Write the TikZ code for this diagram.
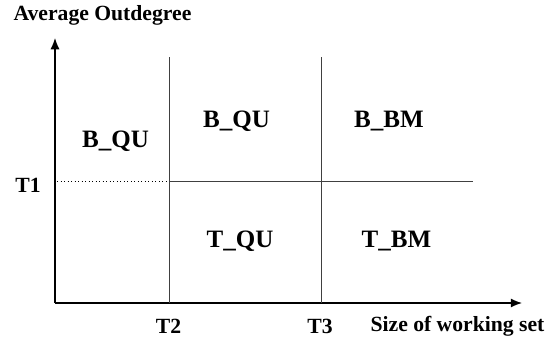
\documentclass[tikz,border=0pt]{standalone}
\usepackage{fontspec}
\setmainfont{Liberation Serif}
\usepackage{tikz}
\usetikzlibrary{arrows.meta,positioning}

\tikzset{
    lbl/.style={font=\fontsize{15.4}{18}\selectfont\bfseries, inner sep=0pt},
    region/.style={font=\fontsize{17.8}{21}\selectfont\bfseries, inner sep=0pt, anchor=base},
    divider/.style={line width=0.6pt, color=black!75},
    axis/.style={line width=0.9pt, -{Latex[length=8pt,width=6.5pt]}}
}

\begin{document}
\begin{tikzpicture}[x=0.025cm, y=0.025cm]
        \useasboundingbox (-55,-42) rectangle (497,303);

        % Axes
        \coordinate (O) at (0,0);
        \coordinate (ytip) at (0,265);
        \coordinate (xtip) at (467,0);
        \draw[axis] (O) -- (ytip);
        \draw[axis] (O) -- (xtip);

        % Axis labels
        \node[lbl] (ylabel) at (47.5,288) {Average Outdegree};
        \node[lbl] (xlabel) at (402.5,-23) {Size of working set};

        % Thresholds
        \coordinate (t2top) at (114,246);
        \coordinate (t2bot) at (114,0);
        \coordinate (t3top) at (266,246);
        \coordinate (t3bot) at (266,0);
        \coordinate (t1left) at (2,122);
        \coordinate (t1mid) at (114,122);
        \coordinate (t1right) at (418,122);
        \node[lbl] (t1) at (-27,118) {T1};
        \node[lbl] (t2) at (113.5,-23) {T2};
        \node[lbl] (t3) at (265,-23) {T3};

        % Region dividers
        \draw[divider] (t2bot) -- (t2top);
        \draw[divider] (t3bot) -- (t3top);
        \draw[divider] (t1mid) -- (t1right);
        \draw[dotted, line width=0.5pt] (t1left) -- (t1mid);

        % Region labels
        \node[region] (bqul) at (60.5,156) {B\_QU};
        \node[region] (bqu) at (181.5,175.7) {B\_QU};
        \node[region] (bbm) at (334,175.7) {B\_BM};
        \node[region] (tqu) at (185,56) {T\_QU};
        \node[region] (tbm) at (341.5,56) {T\_BM};
    \end{tikzpicture}
\end{document}
